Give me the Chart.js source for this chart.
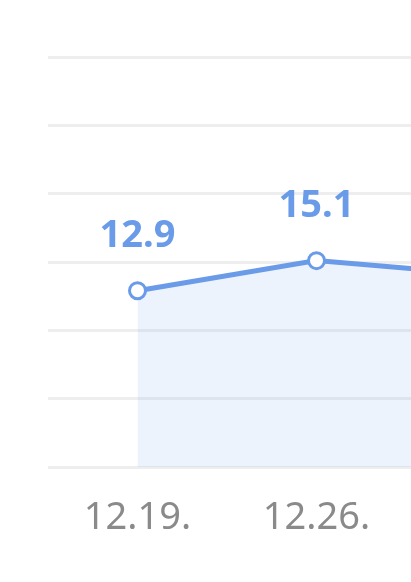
<!DOCTYPE html>
<html>
<head>
<meta charset="utf-8">
<script src="https://cdn.jsdelivr.net/npm/chart.js@4.4.0/dist/chart.umd.min.js"></script>
<style>
  html, body { margin: 0; padding: 0; background: #fff; overflow: hidden; }
  #wrap { width: 600px; height: 582px; position: relative; }
</style>
</head>
<body>
<div id="wrap"><canvas id="lineChart"></canvas></div>
<script>
// dados do grafico
var labels = ['12.19.', '12.26.', '1.2.'];
var values = [12.9, 15.1, 14.0];
var yTicks = [0, 5, 10, 15, 20, 25, 30];

var blue = '#6a9be8';

// escreve o valor em cima de cada ponto
var valueLabels = {
    id: 'valueLabels',
    afterDatasetsDraw: function (chart) {
        var ctx = chart.ctx;
        var meta = chart.getDatasetMeta(0);
        ctx.save();
        ctx.fillStyle = blue;
        ctx.font = 'bold 38px "Noto Sans"';
        ctx.textAlign = 'center';
        ctx.textBaseline = 'alphabetic';
        meta.data.forEach(function (pt, i) {
            ctx.fillText(values[i].toFixed(1), pt.x, pt.y - 44);
        });
        ctx.restore();
    }
};

var ctx = document.getElementById('lineChart').getContext('2d');
var myChart = new Chart(ctx, {
    type: 'line',
    data: {
        labels: labels,
        datasets: [{
            data: values,
            borderColor: blue,
            borderWidth: 5,
            backgroundColor: 'rgba(106,155,232,0.12)',
            fill: 'origin',
            tension: 0,
            pointRadius: 8,
            pointBorderWidth: 3,
            pointBackgroundColor: '#fff',
            pointBorderColor: blue
        }]
    },
    options: {
        responsive: true,
        maintainAspectRatio: false,
        animation: false,
        layout: { padding: { left: 48, right: 15, top: 57, bottom: 0 } },
        plugins: {
            legend: { display: false },
            tooltip: { enabled: false }
        },
        scales: {
            x: {
                offset: true,
                grid: { display: false },
                border: { display: false },
                ticks: {
                    color: '#8a8a8a',
                    padding: 20,
                    font: { size: 38, family: '"Noto Sans"' }
                },
                afterFit: function (s) { s.height = 115; }
            },
            y: {
                min: 0,
                max: 30,
                afterBuildTicks: function (s) {
                    s.ticks = yTicks.map(function (v) { return { value: v }; });
                },
                ticks: { display: false },
                grid: { color: '#eeeeee', lineWidth: 3, drawTicks: false },
                border: { display: false },
                afterFit: function (s) { s.width = 0; }
            }
        }
    },
    plugins: [valueLabels]
});
</script>
</body>
</html>
